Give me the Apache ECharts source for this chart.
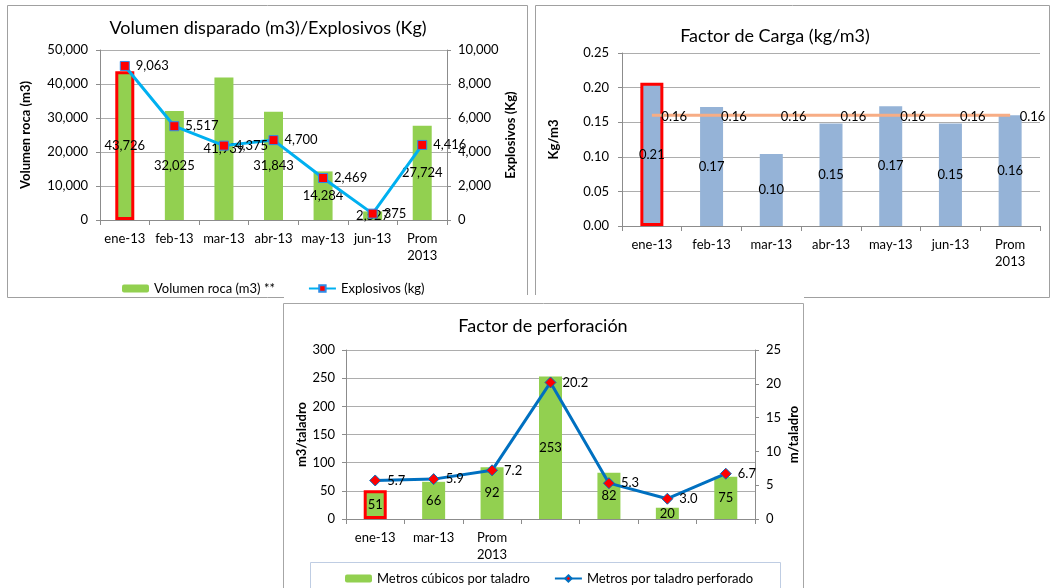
<!DOCTYPE html>
<html><head><meta charset="utf-8">
<script src="https://cdn.jsdelivr.net/npm/echarts@6/dist/echarts.min.js"></script>
<style>html,body{margin:0;padding:0;background:#fff}#c{width:1051px;height:588px}</style>
</head><body><div id="c"></div>
<script>
// ---- data ----
const months1 = ['ene-13','feb-13','mar-13','abr-13','may-13','jun-13','Prom\n2013'];
const volumenRoca = [43726,32025,41939,31843,14284,2527,27724];
const explosivos = [9063,5517,4375,4700,2469,375,4416];
const factorCarga = [0.207,0.172,0.104,0.148,0.173,0.148,0.160];
const factorCargaProm = [0.16,0.16,0.16,0.16,0.16,0.16,0.16];
const months3 = ['ene-13','mar-13','Prom\n2013','','','',''];
const m3PorTaladro = [51,66,92,253,82,20,75];
const mPorTaladro = [5.7,5.9,7.2,20.2,5.3,3.0,6.7];

const FF = 'Lato, "Open Sans", sans-serif';
const GRID = '#ADADAD', AX = '#8C8C8C';
const fmt = v => Math.round(v).toLocaleString('en-US');
const hl = (arr) => arr.map((v,i)=> i===0 ? {value:v, itemStyle:{borderColor:'#FF0000', borderWidth:3}} : v);

function yAx(o){
  return Object.assign({
    type:'value',
    axisLine:{show:true,lineStyle:{color:AX}},
    axisTick:{show:true,length:4,lineStyle:{color:AX}},
    splitLine:{show:false},
    nameLocation:'middle', nameRotate:90,
    nameTextStyle:{fontWeight:'bold',fontSize:13,color:'#000',fontFamily:FF}
  }, o);
}
function xAx(o){
  return Object.assign({
    type:'category',
    axisLine:{lineStyle:{color:AX}},
    axisTick:{show:true,length:5,lineStyle:{color:AX}},
    axisLabel:{color:'#000',fontSize:13,fontFamily:FF,margin:10,lineHeight:17,interval:0}
  }, o);
}
const lblStyle = {color:'#000',fontSize:13,fontFamily:FF};

const chart = echarts.init(document.getElementById('c'), null, {renderer:'canvas'});
chart.setOption({
  animation:false,
  backgroundColor:'#fff',
  grid:[
    {left:100, top:50, width:347, height:170},
    {left:622, top:53, width:418, height:173},
    {left:346, top:350, width:409, height:169}
  ],
  xAxis:[
    xAx({gridIndex:0, data:months1}),
    xAx({gridIndex:1, data:months1}),
    xAx({gridIndex:2, data:months3})
  ],
  yAxis:[
    yAx({gridIndex:0, min:0, max:50000, interval:10000, splitLine:{lineStyle:{color:GRID}},
         axisLabel:Object.assign({}, lblStyle,{margin:12, formatter:fmt}),
         name:'Volumen roca (m3)', nameGap:68}),
    yAx({gridIndex:0, position:'right', min:0, max:10000, interval:2000,
         axisLabel:Object.assign({}, lblStyle,{margin:11, formatter:fmt}),
         name:'Explosivos (Kg)', nameGap:57}),
    yAx({gridIndex:1, min:0, max:0.25, interval:0.05, splitLine:{lineStyle:{color:GRID}},
         axisLabel:Object.assign({}, lblStyle,{margin:13, formatter:v=>v.toFixed(2)}),
         name:'Kg/m3', nameGap:62}),
    yAx({gridIndex:2, min:0, max:300, interval:50, splitLine:{lineStyle:{color:GRID}},
         axisLabel:Object.assign({}, lblStyle,{margin:11}),
         name:'m3/taladro', nameGap:38}),
    yAx({gridIndex:2, position:'right', min:0, max:25, interval:5,
         axisLabel:Object.assign({}, lblStyle,{margin:11}),
         name:'m/taladro', nameGap:32})
  ],
  legend:[
    {left:117, top:277, itemWidth:27, itemHeight:8, itemGap:33,
     textStyle:{color:'#000',fontSize:13,fontFamily:FF},
     data:['Volumen roca (m3) **','Explosivos (kg)']},
    {left:340, top:567, itemWidth:27, itemHeight:8, itemGap:24,
     textStyle:{color:'#000',fontSize:13,fontFamily:FF},
     data:['Metros cúbicos por taladro','Metros por taladro perforado']}
  ],
  series:[
    {name:'Volumen roca (m3) **', type:'bar', xAxisIndex:0, yAxisIndex:0, barWidth:19,
     itemStyle:{color:'#92D050'}, data:hl(volumenRoca),
     label:Object.assign({show:true, position:'inside', formatter:p=>fmt(p.value)}, lblStyle)},
    {name:'Explosivos (kg)', type:'line', xAxisIndex:0, yAxisIndex:1, data:explosivos,
     lineStyle:{color:'#00B0F0', width:3}, symbol:'rect', symbolSize:9,
     itemStyle:{color:'#FF0000', borderColor:'#2E8BE6', borderWidth:1},
     label:Object.assign({show:true, position:'right', distance:6, formatter:p=>fmt(p.value)}, lblStyle)},
    {name:'Factor de Carga', type:'bar', xAxisIndex:1, yAxisIndex:2, barWidth:23,
     itemStyle:{color:'#95B3D7'}, data:hl(factorCarga),
     label:Object.assign({show:true, position:'inside', formatter:p=>p.value.toFixed(2)}, lblStyle)},
    {name:'Promedio', type:'line', xAxisIndex:1, yAxisIndex:2, data:factorCargaProm,
     lineStyle:{color:'#F7AD85', width:3}, symbol:'circle', symbolSize:1, showSymbol:true,
     itemStyle:{color:'rgba(0,0,0,0)'},
     label:Object.assign({show:true, position:'right', distance:9, offset:[0,2], formatter:p=>p.value.toFixed(2)}, lblStyle)},
    {name:'Metros cúbicos por taladro', type:'bar', xAxisIndex:2, yAxisIndex:3, barWidth:23,
     itemStyle:{color:'#92D050'}, data:hl(m3PorTaladro),
     label:Object.assign({show:true, position:'inside', formatter:p=>fmt(p.value)}, lblStyle)},
    {name:'Metros por taladro perforado', type:'line', xAxisIndex:2, yAxisIndex:4, data:mPorTaladro,
     lineStyle:{color:'#0070C0', width:3}, symbol:'diamond', symbolSize:11,
     itemStyle:{color:'#FF0000', borderColor:'#0070C0', borderWidth:1},
     label:Object.assign({show:true, position:'right', distance:6, formatter:p=>p.value.toFixed(1)}, lblStyle)}
  ],
  graphic:[
    {type:'rect', silent:true, shape:{x:7.5,y:5.5,width:520,height:292}, style:{fill:'none',stroke:'#A0A0A0',lineWidth:1}},
    {type:'rect', silent:true, shape:{x:535.5,y:5.5,width:514,height:292}, style:{fill:'none',stroke:'#A0A0A0',lineWidth:1}},
    {type:'rect', silent:true, shape:{x:284,y:295,width:520,height:8}, style:{fill:'#fff'}},
    {type:'rect', silent:true, shape:{x:283.5,y:303.5,width:520,height:300}, style:{fill:'none',stroke:'#A6A6A6',lineWidth:1}},
    {type:'rect', silent:true, shape:{x:310.5,y:562.5,width:470,height:40}, style:{fill:'none',stroke:'#BFCDE3',lineWidth:1}},
    {type:'text', silent:true, x:268, y:28, style:{text:'Volumen disparado (m3)/Explosivos (Kg)', fill:'#000', font:'18px '+FF, textAlign:'center', textVerticalAlign:'middle'}},
    {type:'text', silent:true, x:775, y:36, style:{text:'Factor de Carga (kg/m3)', fill:'#000', font:'18px '+FF, textAlign:'center', textVerticalAlign:'middle'}},
    {type:'text', silent:true, x:543, y:326, style:{text:'Factor de perforación', fill:'#000', font:'18px '+FF, textAlign:'center', textVerticalAlign:'middle'}}
  ]
});
</script></body></html>
